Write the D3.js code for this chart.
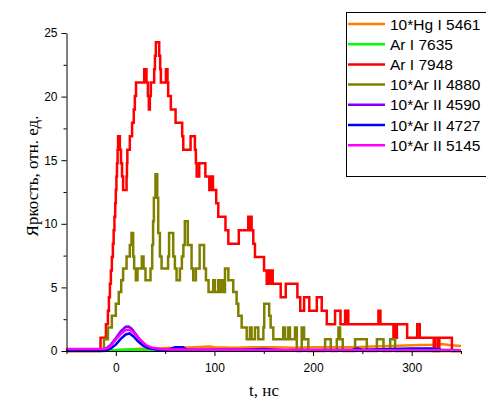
<!DOCTYPE html>
<html>
<head>
<meta charset="utf-8">
<script src="https://cdn.jsdelivr.net/npm/d3@7"></script>
<style>
body { margin: 0; background: #fff; }
svg { display: block; }
</style>
</head>
<body>
<svg id="chart" width="486" height="400"></svg>
<script>
// legend / series
var names = ['10*Hg I 5461', 'Ar I 7635', 'Ar I 7948', '10*Ar II 4880', '10*Ar II 4590', '10*Ar II 4727', '10*Ar II 5145'];
var colors = ['#ff8000', '#00ff00', '#ff0000', '#808000', '#8000ff', '#0000ff', '#ff00ff'];

var xTicks = [0, 100, 200, 300];
var yTicks = [0, 5, 10, 15, 20, 25];

// Ar I 7948 (step data: time where level starts, level)
var redT = [-50, -15.5, -10, -8, -7, -6, -5, -4, -3, -2.2, -1.4, -0.6, 0, 0.6, 1.2, 1.8, 2.3, 4.1, 5.2, 6.3, 7.4, 10.9, 11.3, 11.7, 14.2, 16.5, 18.2, 19.3, 20.5, 28.8, 31.1, 32.5, 33.5, 34.5, 35.5, 38.9, 39.7, 40.6, 44, 45, 45.7, 50.8, 52.4, 53.1, 55.8, 60.6, 67.3, 68.4, 75.8, 80.2, 81.2, 82, 84.6, 90.8, 94.8, 95.5, 96.5, 97.5, 98.5, 101.8, 103.9, 111.2, 114.1, 124.7, 134.3, 135.3, 136.3, 137.7, 139.4, 141.1, 150.3, 153, 155.5, 156.5, 157.3, 159.1, 167.2, 172.3, 184.1, 187, 190.9, 196.2, 203.8, 208.8, 213.9, 222.3, 227.8, 232.5, 233.3, 234.7, 235.7, 266.3, 268.3, 281.5, 282.5, 283.3, 285, 295.4, 305.6, 308.2, 322.4, 323.9, 326.7, 328, 340.8, 350];
var redV = [0, 1.05, 2.11, 3.17, 4.22, 5.28, 6.33, 7.39, 8.44, 9.5, 10.55, 11.61, 12.66, 13.72, 14.77, 15.83, 16.88, 15.83, 14.77, 13.72, 12.66, 13.72, 14.77, 15.83, 16.88, 17.94, 18.99, 20.05, 21.1, 22.16, 21.1, 20.05, 18.99, 20.05, 21.1, 22.16, 23.21, 24.27, 23.21, 22.16, 21.1, 22.16, 21.1, 20.05, 18.99, 17.94, 16.88, 15.83, 16.88, 15.83, 14.77, 13.72, 14.77, 13.72, 12.66, 13.72, 12.66, 13.72, 12.66, 11.61, 10.55, 9.5, 8.44, 9.5, 10.55, 9.5, 10.55, 9.5, 8.44, 7.39, 6.33, 5.28, 6.33, 5.28, 6.33, 5.28, 4.22, 5.28, 4.22, 3.17, 4.22, 3.17, 4.22, 3.17, 2.11, 3.17, 2.11, 3.17, 2.11, 3.17, 2.11, 3.17, 2.11, 1.05, 2.11, 1.05, 2.11, 1.05, 2.11, 1.05, 0, 1.05, 0, 1.05, 0, 0];

// 10*Ar II 4880 (step data)
var oliveT = [-50, -12, -8, -4, 0, 3, 5.5, 7.4, 10.9, 14.2, 15.9, 17.6, 18.6, 20.3, 22, 26.4, 28.1, 30.1, 35.2, 36.9, 37.8, 38.6, 40.2, 42, 43, 44.7, 46.4, 53, 54, 58.2, 59.9, 61.6, 65, 67, 68.5, 70, 73, 76.8, 78.5, 81.2, 85, 89.5, 91.4, 94, 98.8, 100.5, 103.9, 105.6, 107.3, 108.9, 110.7, 114.1, 119.1, 122.5, 124.2, 127.6, 132.7, 136, 137.7, 141.1, 144.5, 149.6, 150.5, 155.5, 157, 159.7, 169.8, 171.6, 174.9, 176.6, 181.7, 183.5, 188.5, 190.9, 195.2, 212.2, 218, 224.1, 225.7, 227.4, 230.1, 242.6, 254.5, 264.7, 271.4, 278.2, 283.2, 350];
var oliveV = [0, 0.93, 1.85, 2.78, 3.71, 4.64, 5.56, 6.49, 7.42, 8.34, 9.27, 7.42, 6.49, 5.56, 6.49, 7.42, 6.49, 5.56, 6.49, 8.34, 10.2, 12.05, 13.9, 12.05, 9.27, 7.42, 6.49, 7.42, 9.27, 7.42, 6.49, 5.56, 6.49, 7.42, 8.34, 10.2, 8.34, 6.49, 5.56, 6.49, 8.34, 6.49, 5.56, 4.64, 5.56, 4.64, 5.56, 4.64, 5.56, 4.64, 6.49, 5.56, 4.64, 3.71, 2.78, 1.85, 0.93, 1.85, 0.93, 1.85, 0.93, 1.85, 3.71, 2.78, 1.85, 0.93, 1.85, 0.93, 1.85, 0.93, 1.85, 0, 1.85, 0.93, 0, 0.93, 0, 0.93, 1.85, 0.93, 0, 0.93, 0, 0.93, 0, 0.93, 0, 0];

// 10*Hg I 5461
var orangeT = [-50, -20, 0, 10, 20, 30, 40, 60, 80, 95, 100, 120, 140, 160, 180, 200, 220, 240, 260, 280, 300, 320, 330, 340, 350];
var orangeV = [0.1, 0.1, 0.05, 0.1, 0.15, 0.2, 0.2, 0.25, 0.3, 0.35, 0.3, 0.25, 0.3, 0.3, 0.25, 0.3, 0.3, 0.3, 0.35, 0.4, 0.45, 0.5, 0.55, 0.45, 0.4];

// Ar I 7635
var greenT = [-50, 0, 15, 30, 100, 200, 300, 350];
var greenV = [0.05, 0.08, 0.12, 0.08, 0.06, 0.05, 0.05, 0.05];

// 10*Ar II 4590
var purpleT = [-50, -14, -10, -5, 0, 5, 10, 13, 16, 20, 25, 30, 35, 40, 50, 100, 200, 300, 350];
var purpleV = [0.1, 0.1, 0.2, 0.5, 1.0, 1.55, 1.9, 1.92, 1.75, 1.35, 0.85, 0.45, 0.25, 0.15, 0.1, 0.08, 0.06, 0.06, 0.05];

// 10*Ar II 4727
var blueT = [-50, -10, -5, 0, 5, 10, 14, 18, 22, 27, 32, 38, 45, 55, 60, 68, 72, 100, 130, 150, 170, 240, 245, 250, 280, 300, 320, 330, 350];
var blueV = [0.05, 0.05, 0.2, 0.5, 0.95, 1.3, 1.38, 1.15, 0.8, 0.45, 0.25, 0.15, 0.1, 0.15, 0.3, 0.3, 0.1, 0.1, 0.1, 0.15, 0.05, 0.1, 0.2, 0.1, 0.15, 0.2, 0.2, 0.1, 0.05];

// 10*Ar II 5145
var magentaT = [-50, -12, -8, -4, 0, 5, 10, 14, 18, 22, 27, 32, 37, 45, 60, 100, 200, 300, 350];
var magentaV = [0.15, 0.15, 0.25, 0.5, 0.9, 1.35, 1.65, 1.67, 1.45, 1.1, 0.7, 0.4, 0.25, 0.15, 0.12, 0.1, 0.08, 0.06, 0.05];

var svg = d3.select('#chart');

var x = d3.scaleLinear().domain([-50, 350]).range([66.5, 461]);
var y = d3.scaleLinear().domain([0, 25]).range([351, 33]);

function pairs(ts, vs) {
  return ts.map(function(t, i) { return [t, vs[i]]; });
}

var series = [
  { data: pairs(orangeT, orangeV), curve: d3.curveLinear },
  { data: pairs(greenT, greenV), curve: d3.curveLinear },
  { data: pairs(redT, redV), curve: d3.curveStepAfter },
  { data: pairs(oliveT, oliveV), curve: d3.curveStepAfter },
  { data: pairs(purpleT, purpleV), curve: d3.curveLinear },
  { data: pairs(blueT, blueV), curve: d3.curveLinear },
  { data: pairs(magentaT, magentaV), curve: d3.curveLinear }
];

series.forEach(function(s, i) {
  var line = d3.line()
    .x(function(d) { return x(d[0]); })
    .y(function(d) { return y(d[1]); })
    .curve(s.curve);
  svg.append('path')
    .datum(s.data)
    .attr('fill', 'none')
    .attr('stroke', colors[i])
    .attr('stroke-width', 2.5)
    .attr('stroke-linejoin', 'miter')
    .attr('d', line);
});

// axes
var xAxis = svg.append('g')
  .attr('transform', 'translate(0,' + y(0) + ')')
  .call(d3.axisBottom(x).tickValues(xTicks).tickSize(5).tickSizeOuter(0).tickFormat(d3.format('d')));
svg.append('g')
  .attr('transform', 'translate(0,' + y(0) + ')')
  .call(d3.axisBottom(x).tickValues([-50, 50, 150, 250, 350]).tickSize(3).tickSizeOuter(0).tickFormat(''))
  .select('.domain').remove();

var yAxis = svg.append('g')
  .attr('transform', 'translate(' + x(-50) + ',0)')
  .call(d3.axisLeft(y).tickValues(yTicks).tickSize(5).tickSizeOuter(0));
svg.append('g')
  .attr('transform', 'translate(' + x(-50) + ',0)')
  .call(d3.axisLeft(y).tickValues([2.5, 7.5, 12.5, 17.5, 22.5]).tickSize(3).tickSizeOuter(0).tickFormat(''))
  .select('.domain').remove();

svg.selectAll('.tick text')
  .attr('font-family', 'Liberation Sans, Arial, sans-serif')
  .attr('font-size', 12)
  .attr('fill', '#000');
xAxis.selectAll('.tick text').attr('dy', '1.1em');
yAxis.selectAll('.tick text').attr('x', -9);

// axis titles
svg.append('text')
  .attr('x', 264)
  .attr('y', 396)
  .attr('text-anchor', 'middle')
  .attr('font-family', 'Liberation Serif, Times New Roman, serif')
  .attr('font-size', 17)
  .text('t, нс');

svg.append('text')
  .attr('transform', 'translate(38,176) rotate(-90)')
  .attr('text-anchor', 'middle')
  .attr('font-family', 'Liberation Serif, Times New Roman, serif')
  .attr('font-size', 17)
  .text('Яркость, отн. ед.');

// legend
var legend = svg.append('g');
legend.append('rect')
  .attr('x', 346.5)
  .attr('y', 12.5)
  .attr('width', 160)
  .attr('height', 164)
  .attr('fill', '#fff')
  .attr('stroke', '#000')
  .attr('stroke-width', 1);

var rows = legend.selectAll('g.row')
  .data(names)
  .enter()
  .append('g')
  .attr('class', 'row')
  .attr('transform', function(d, i) { return 'translate(0,' + (24 + i * 20.2) + ')'; });

rows.append('line')
  .attr('x1', 348).attr('x2', 385)
  .attr('y1', 0).attr('y2', 0)
  .attr('stroke', function(d, i) { return colors[i]; })
  .attr('stroke-width', 2.5);

rows.append('text')
  .attr('x', 390)
  .attr('y', 5.5)
  .attr('font-family', 'Liberation Sans, Arial, sans-serif')
  .attr('font-size', 15.5)
  .attr('fill', '#000')
  .text(function(d) { return d; });
</script>
</body>
</html>
